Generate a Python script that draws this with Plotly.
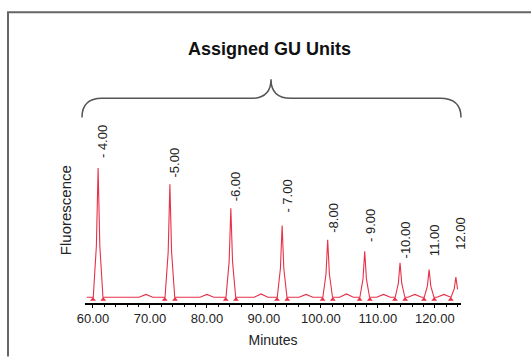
import plotly.graph_objects as go

# ---- data ----
peak_minutes = [60.9, 73.5, 84.2, 93.2, 101.2, 107.7, 113.9, 119.0, 123.7]
peak_heights = [2700, 2360, 1860, 1500, 1200, 960, 720, 580, 420]
peak_labels = ["- 4.00", "-5.00", "-6.00", "- 7.00", "-8.00", "- 9.00", "-10.00", "11.00", "12.00"]
label_heights = [2860, 2460, 1960, 1720, 1300, 1120, 760, 820, 960]
bump_minutes = [69.3, 80.0, 89.5, 97.4, 104.5, 111.0, 116.5, 121.6]
bump_heights = [60, 60, 70, 60, 70, 60, 60, 60]
tick_values = [60, 70, 80, 90, 100, 110, 120]
tick_text = ["60.00", "70.00", "80.00", "90.00", "100.00", "110.00", "120.00"]

# ---- build the trace (peaks + small baseline bumps) ----
pts = [(58.9, 0)]
for t, h in zip(peak_minutes, peak_heights):
    pts += [(t - 0.85, 0), (t - 0.3, 0.4 * h), (t, h), (t + 0.3, 0.4 * h), (t + 0.85, 0)]
for t, h in zip(bump_minutes, bump_heights):
    pts += [(t - 1.2, 0), (t, h), (t + 1.2, 0)]
pts.sort()
pts = [p for p in pts if p[0] <= 124.2]
tx = [p[0] for p in pts]
ty = [p[1] for p in pts]

mx, my = [], []
for t in peak_minutes:
    for d in (-0.9, 0.9):
        if t + d <= 124.5:
            mx.append(t + d)
            my.append(-45)

RED = "rgb(232,48,72)"
FONT = "Liberation Sans, Arial, sans-serif"

fig = go.Figure()
fig.add_trace(go.Scatter(x=tx, y=ty, mode="lines", line=dict(color=RED, width=1.1),
                         hoverinfo="skip", showlegend=False))
fig.add_trace(go.Scatter(x=mx, y=my, mode="markers",
                         marker=dict(symbol="triangle-up", size=5, color=RED),
                         hoverinfo="skip", showlegend=False))

# plot area geometry (pixels)
L, R, T, B = 85, 461, 60, 314
W, H = 531, 358


def px(x):
    return (x - L) / (R - L)


def py(y):
    return (B - y) / (B - T)


for t, lab, ly in zip(peak_minutes, peak_labels, label_heights):
    fig.add_annotation(x=t, y=ly, xref="x", yref="y", text=lab, textangle=-90,
                       showarrow=False, xanchor="center", yanchor="bottom",
                       xshift=5, font=dict(size=13, color="#222", family=FONT))

fig.add_annotation(x=px(269), y=py(48), xref="paper", yref="paper",
                   xanchor="center", yanchor="middle",
                   text="<b>Assigned GU Units</b>", showarrow=False,
                   font=dict(size=18, color="#111", family=FONT))
fig.add_annotation(x=px(65), y=py(217), xref="paper", yref="paper",
                   xanchor="center", yanchor="middle",
                   text="Fluorescence", textangle=-90, showarrow=False,
                   font=dict(size=15, color="#222", family=FONT))

brace = (f"M {px(82)},{py(120)} Q {px(82)},{py(100)} {px(102)},{py(100)} "
         f"L {px(251)},{py(100)} Q {px(271)},{py(100)} {px(271)},{py(80)} "
         f"Q {px(271)},{py(100)} {px(291)},{py(100)} L {px(440)},{py(100)} "
         f"Q {px(461)},{py(100)} {px(461)},{py(120)}")
fig.add_shape(type="path", path=brace, xref="paper", yref="paper",
              line=dict(color="#555", width=1.5))

frame = (f"M {px(8)},{py(370)} L {px(8)},{py(10)} L {px(545)},{py(10)}")
fig.add_shape(type="path", path=frame, xref="paper", yref="paper",
              line=dict(color="#666", width=2))

fig.update_xaxes(range=[58.6, 124.6], showline=True, linecolor="black", linewidth=1.5,
                 ticks="outside", ticklen=3, tickcolor="black", tickvals=tick_values,
                 ticktext=tick_text, showgrid=False, zeroline=False,
                 tickfont=dict(size=13, color="#222", family=FONT),
                 minor=dict(ticks="outside", ticklen=2, dtick=2, tickcolor="black", showgrid=False),
                 title=dict(text="Minutes", font=dict(size=14, color="#222", family=FONT), standoff=10))
fig.update_yaxes(visible=False, range=[-120, 4960])

fig.update_layout(width=W, height=H, margin=dict(l=L, r=W - R, t=T, b=H - B),
                  paper_bgcolor="white", plot_bgcolor="white", showlegend=False)

fig.write_html("out.html")
